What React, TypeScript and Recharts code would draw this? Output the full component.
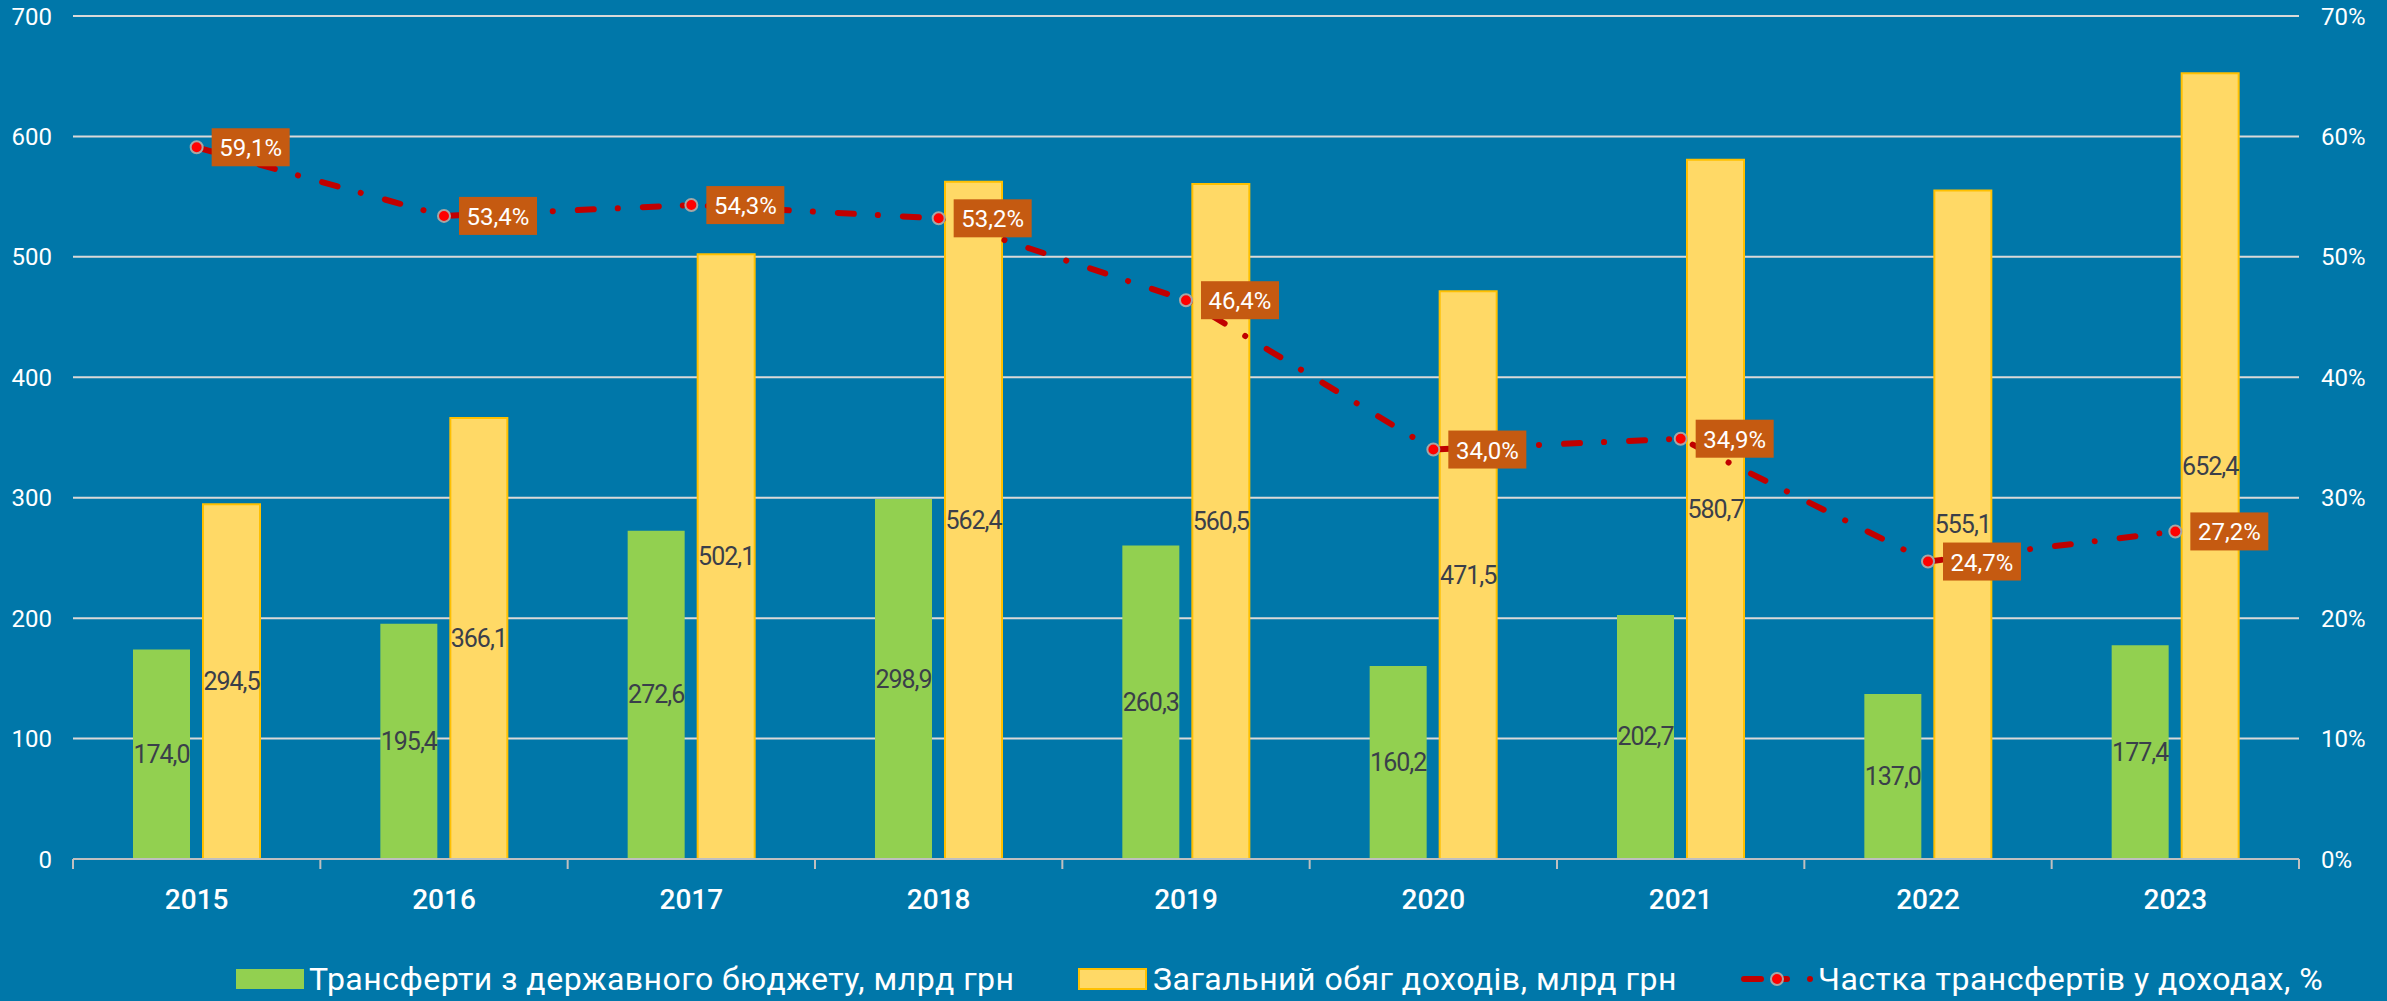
import React from 'react';
import { ComposedChart, Bar, Line, XAxis, YAxis, CartesianGrid, Legend, LabelList } from 'recharts';

// ---- data ----
const years = ['2015', '2016', '2017', '2018', '2019', '2020', '2021', '2022', '2023'];
const transfers = [174.0, 195.4, 272.6, 298.9, 260.3, 160.2, 202.7, 137.0, 177.4];
const revenues = [294.5, 366.1, 502.1, 562.4, 560.5, 471.5, 580.7, 555.1, 652.4];
const shares = [59.1, 53.4, 54.3, 53.2, 46.4, 34.0, 34.9, 24.7, 27.2];
const leftTicks = [0, 100, 200, 300, 400, 500, 600, 700];
const rightTicks = [0, 10, 20, 30, 40, 50, 60, 70];
const seriesNames = [
  'Трансферти з державного бюджету, млрд грн',
  'Загальний обяг доходів, млрд грн',
  'Частка трансфертів у доходах, %',
];

const W = 2387;
const H = 1001;
const FONT = 'Roboto, "Noto Sans", "DejaVu Sans", sans-serif';
const BG = '#0077A9';

const data = years.map((year, i) => ({
  year,
  transfers: transfers[i],
  revenues: revenues[i],
  share: shares[i],
}));

const fmt = (v: number) => Number(v).toFixed(1).replace('.', ',');

function BarValueLabel(props: any) {
  const vb = props.viewBox || {};
  const x = props.x ?? vb.x;
  const y = props.y ?? vb.y;
  const w = props.width ?? vb.width;
  const h = props.height ?? vb.height;
  if (x == null || y == null) return null;
  return (
    <text
      x={x + w / 2}
      y={y + h / 2}
      textAnchor="middle"
      dominantBaseline="central"
      fill="#3A3F4A"
      fontSize={25}
      letterSpacing={-1}
      fontFamily={FONT}
    >
      {fmt(props.value)}
    </text>
  );
}

function ShareLabel(props: any) {
  const vb = props.viewBox || {};
  const x = props.x ?? vb.x;
  const y = props.y ?? vb.y;
  if (x == null || y == null) return null;
  return (
    <g>
      <rect x={x + 15} y={y - 19} width={78} height={38} fill="#C55A11" />
      <text
        x={x + 54}
        y={y + 1}
        textAnchor="middle"
        dominantBaseline="central"
        fill="#FFFFFF"
        fontSize={24}
        fontFamily={FONT}
      >
        {fmt(props.value)}%
      </text>
    </g>
  );
}

function ShareDot(props: any) {
  const { cx, cy, index } = props;
  if (cx == null || cy == null) return <g key={`d${index}`} />;
  return <circle key={`d${index}`} cx={cx} cy={cy} r={6} fill="#FF0000" stroke="#A6A6A6" strokeWidth={2} />;
}

function YearTick(props: any) {
  const { x, y, payload, index } = props;
  const half = payload && payload.offset ? payload.offset : 2226 / years.length / 2;
  return (
    <g>
      <line x1={x - half} x2={x - half} y1={y} y2={y + 10} stroke="#BFBFBF" strokeWidth={2} />
      {index === years.length - 1 && (
        <line x1={x + half} x2={x + half} y1={y} y2={y + 10} stroke="#BFBFBF" strokeWidth={2} />
      )}
      <text
        x={x}
        y={y + 40}
        textAnchor="middle"
        dominantBaseline="central"
        fill="#FFFFFF"
        fontSize={28}
        fontWeight={500}
        fontFamily={FONT}
      >
        {payload.value}
      </text>
    </g>
  );
}

function LegendContent() {
  const cy = 28;
  const textProps = {
    dominantBaseline: 'central' as const,
    fill: '#FFFFFF',
    fontSize: 32,
    letterSpacing: 0.5,
    fontFamily: FONT,
  };
  return (
    <svg width={W} height={50} style={{ display: 'block' }}>
      <rect x={236} y={cy - 10} width={68} height={20} fill="#92D050" />
      <text x={309} y={cy} {...textProps}>
        {seriesNames[0]}
      </text>
      <rect x={1079} y={cy - 10} width={67} height={20} fill="#FFD966" stroke="#FFC000" strokeWidth={2} />
      <text x={1153} y={cy} {...textProps}>
        {seriesNames[1]}
      </text>
      <line x1={1744} x2={1761} y1={cy} y2={cy} stroke="#C00000" strokeWidth={6} strokeLinecap="round" />
      <line x1={1782} x2={1787} y1={cy} y2={cy} stroke="#C00000" strokeWidth={6} strokeLinecap="round" />
      <circle cx={1810} cy={cy} r={3} fill="#C00000" />
      <circle cx={1777} cy={cy} r={6} fill="#FF0000" stroke="#A6A6A6" strokeWidth={2} />
      <text x={1818} y={cy} {...textProps}>
        {seriesNames[2]}
      </text>
    </svg>
  );
}

export default function App() {
  return (
    <div
      style={{
        position: 'absolute',
        left: 0,
        top: 0,
        width: W,
        height: H,
        background: BG,
        fontFamily: FONT,
      }}
    >
      <ComposedChart
        width={W}
        height={H}
        data={data}
        margin={{ top: 16, right: 0, bottom: 0, left: 0 }}
        barSize={57}
        barGap={13}
      >
        <CartesianGrid yAxisId="left" vertical={false} stroke="#D9D9D9" strokeWidth={2} />
        <XAxis
          dataKey="year"
          height={92}
          tickSize={0}
          tickMargin={0}
          axisLine={{ stroke: '#BFBFBF', strokeWidth: 2 }}
          tickLine={false}
          tick={<YearTick />}
          interval={0}
        />
        <YAxis
          yAxisId="left"
          width={73}
          domain={[0, 700]}
          ticks={leftTicks}
          axisLine={false}
          tickLine={false}
          tickSize={0}
          tickMargin={21}
          tick={{ fill: '#FFFFFF', fontSize: 24, fontFamily: FONT }}
        />
        <YAxis
          yAxisId="right"
          orientation="right"
          width={88}
          domain={[0, 70]}
          ticks={rightTicks}
          axisLine={false}
          tickLine={false}
          tickSize={0}
          tickMargin={22}
          tickFormatter={(v: number) => `${v}%`}
          tick={{ fill: '#FFFFFF', fontSize: 24, fontFamily: FONT, textAnchor: 'start' }}
        />
        <Legend verticalAlign="bottom" height={50} content={<LegendContent />} />
        <Bar yAxisId="left" dataKey="transfers" name={seriesNames[0]} fill="#92D050" isAnimationActive={false}>
          <LabelList dataKey="transfers" content={<BarValueLabel />} />
        </Bar>
        <Bar
          yAxisId="left"
          dataKey="revenues"
          name={seriesNames[1]}
          fill="#FFD966"
          stroke="#FFC000"
          strokeWidth={2}
          isAnimationActive={false}
        >
          <LabelList dataKey="revenues" content={<BarValueLabel />} />
        </Bar>
        <Line
          yAxisId="right"
          dataKey="share"
          name={seriesNames[2]}
          type="linear"
          stroke="#C00000"
          strokeWidth={6}
          strokeDasharray="16 24 0.1 25"
          strokeLinecap="round"
          dot={ShareDot}
          activeDot={false}
          isAnimationActive={false}
        >
          <LabelList dataKey="share" content={<ShareLabel />} />
        </Line>
      </ComposedChart>
    </div>
  );
}
